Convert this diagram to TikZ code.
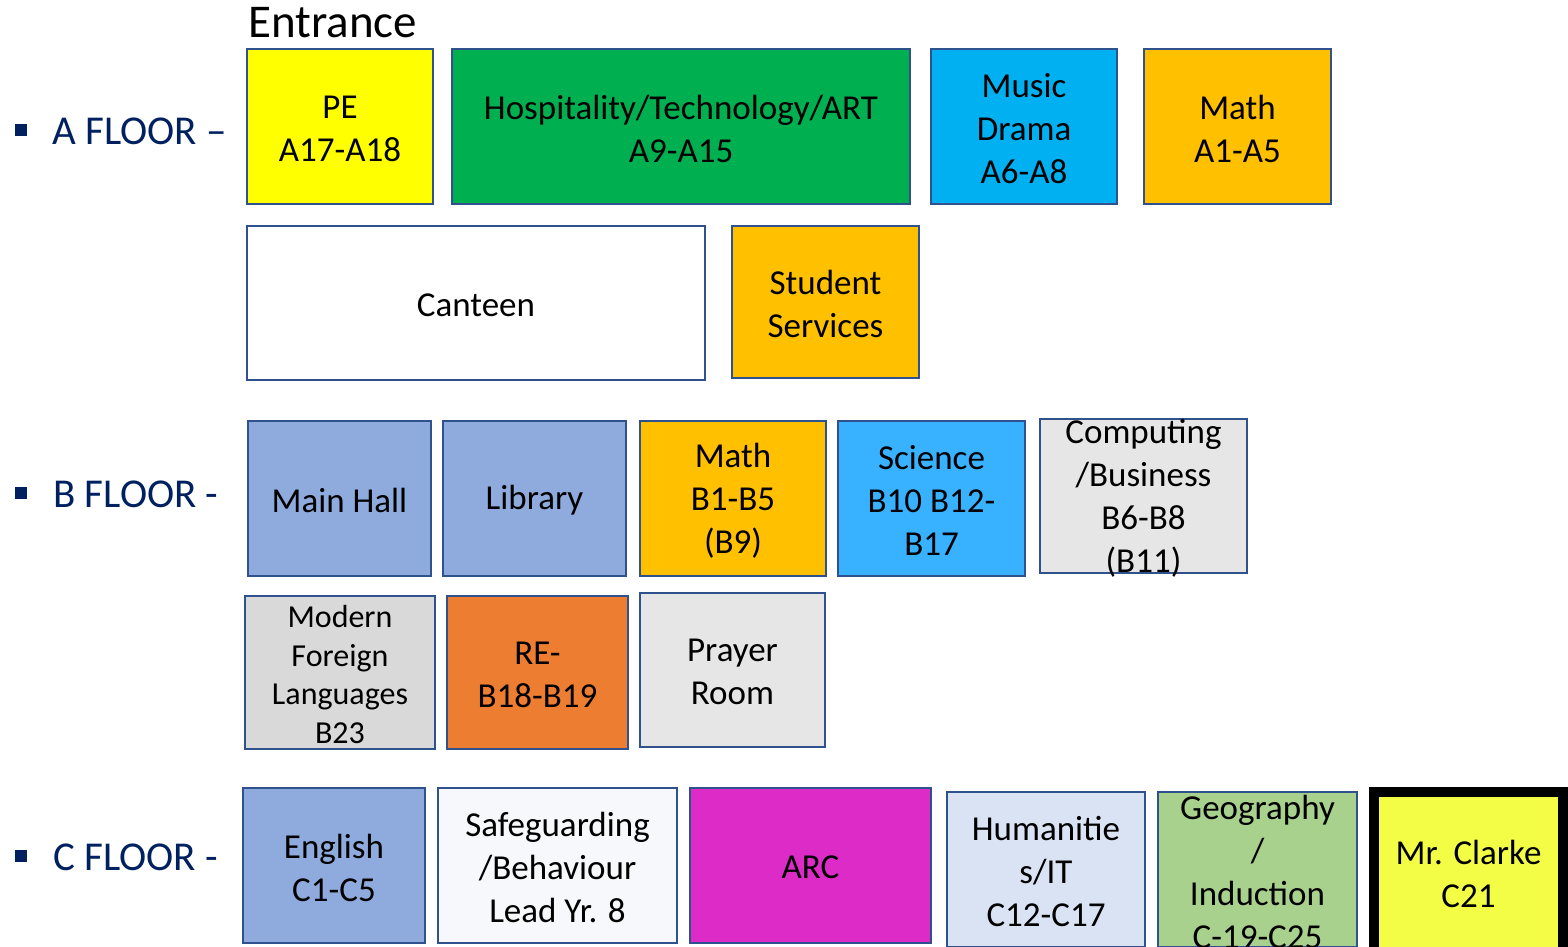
\documentclass[tikz,border=0pt]{standalone}
\usepackage{fontspec}
\setmainfont{Carlito}
\usetikzlibrary{fit,
positioning}
\definecolor{roomline}{HTML}{2F528F}
\definecolor{floornavy}{HTML}{002060}
\definecolor{peyellow}{HTML}{FFFF00}
\definecolor{hospgreen}{HTML}{00B050}
\definecolor{musicblue}{HTML}{00B0F0}
\definecolor{mathorange}{HTML}{FFC000}
\definecolor{hallblue}{HTML}{8FAADC}
\definecolor{scienceblue}{HTML}{38B1FF}
\definecolor{compgrey}{HTML}{E7E6E6}
\definecolor{mflgrey}{HTML}{D9D9D9}
\definecolor{reorange}{HTML}{ED7D31}
\definecolor{safewhite}{HTML}{F7F8FC}
\definecolor{arcpink}{HTML}{DC2BC6}
\definecolor{humblue}{HTML}{DAE3F3}
\definecolor{geogreen}{HTML}{A9D18E}
\definecolor{clarkeyellow}{HTML}{F3FD46}

\begin{document}
\begin{tikzpicture} [x=0.5pt,
    y=-0.5pt,
    room/.style={draw=roomline, line width=1.3pt, inner sep=0pt},
    roomtext/.style={align=center, inner sep=0pt, yshift=-1pt,
        font=\fontsize{17.5}{21.5}\selectfont},
    floor/.style={text=floornavy, anchor=west, inner sep=0pt,
        font=\fontsize{20.5}{24}\selectfont},
    bullet/.style={fill=floornavy, minimum size=6pt, inner sep=0pt}
  ]
  \useasboundingbox (0,0) rectangle (1568,947);

  % A floor
  \node [anchor=west, inner sep=0pt,
    font=\fontsize{23.5}{27}\selectfont
  ] (entrance) at (248,23) {Entrance};

  \node [bullet] (abullet) at (21,130) {};
  \node [floor] (afloor) at (52,131) {A FLOOR --};

  \node [room,
    fill = peyellow,
    fit = {(247,49) (433,204)},
    label = {[roomtext]center:{PE\\A17-A18}}
  ] (pe) {};
  \node [room,
    fill = hospgreen,
    fit = {(452,49) (910,204)},
    label = {[roomtext]center:{Hospitality/Technology/ART\\A9-A15}}
  ] (hosp) {};
  \node [room,
    fill = musicblue,
    fit = {(931,49) (1117,204)},
    label = {[roomtext]center:{Music\\Drama\\A6-A8}}
  ] (music) {};
  \node [room,
    fill = mathorange,
    fit = {(1144,49) (1331,204)},
    label = {[roomtext]center:{Math\\A1-A5}}
  ] (matha) {};

  \node [room,
    fill = white,
    fit = {(247,226) (705,380)},
    label = {[roomtext]center:{Canteen}}
  ] (canteen) {};
  \node [room,
    fill = mathorange,
    fit = {(732,226) (919,378)},
    label = {[roomtext]center:{Student\\Services}}
  ] (services) {};

  % B floor
  \node [bullet] (bbullet) at (21,493) {};
  \node [floor] (bfloor) at (53,494) {B FLOOR -};

  \node [room,
    fill = hallblue,
    fit = {(248,421) (431,576)},
    label = {[roomtext]center:{Main Hall}}
  ] (hall) {};
  \node [room,
    fill = hallblue,
    fit = {(443,421) (626,576)},
    label = {[roomtext]center:{Library}}
  ] (library) {};
  \node [room,
    fill = mathorange,
    fit = {(640,421) (826,576)},
    label = {[roomtext]center:{Math\\B1-B5\\(B9)}}
  ] (mathb) {};
  \node [room,
    fill = scienceblue,
    fit = {(838,421) (1025,576)},
    label = {[roomtext]center:{Science\\B10 B12-\\B17}}
  ] (science) {};
  \node [room,
    fill = compgrey,
    fit = {(1040,419) (1247,573)},
    label = {[roomtext]center:{Computing\\/Business\\B6-B8\\(B11)}}
  ] (computing) {};

  \node [room,
    fill = mflgrey,
    fit = {(245,596) (435,749)},
    label = {[roomtext, font=\fontsize{16}{19.25}\selectfont]center:{Modern\\Foreign\\Languages\\B23}}
  ] (mfl) {};
  \node [room,
    fill = reorange,
    fit = {(447,596) (628,749)},
    label = {[roomtext]center:{RE-\\B18-B19}}
  ] (re) {};
  \node [room,
    fill = compgrey,
    fit = {(640,593) (825,747)},
    label = {[roomtext]center:{Prayer\\Room}}
  ] (prayer) {};

  % C floor
  \node [bullet] (cbullet) at (21,856) {};
  \node [floor] (cfloor) at (53,857) {C FLOOR -};

  \node [room,
    fill = hallblue,
    fit = {(243,788) (425,943)},
    label = {[roomtext]center:{English\\C1-C5}}
  ] (english) {};
  \node [room,
    fill = safewhite,
    fit = {(438,788) (677,943)},
    label = {[roomtext]center:{Safeguarding\\/Behaviour\\Lead Yr. 8}}
  ] (safeguard) {};
  \node [room,
    fill = arcpink,
    fit = {(690,788) (931,943)},
    label = {[roomtext]center:{ARC}}
  ] (arc) {};
  \node [room,
    fill = humblue,
    fit = {(947,792) (1145,947)},
    label = {[roomtext]center:{Humanitie\\s/IT\\C12-C17}}
  ] (humanities) {};
  \node [room,
    fill = geogreen,
    fit = {(1158,792) (1357,947)},
    label = {[roomtext]center:{Geography\\/\\Induction\\C-19-C25}}
  ] (geography) {};
  \node [room,
    draw = black,
    line width = 5pt,
    fill = clarkeyellow,
    fit = {(1374,792) (1563,952)},
    label = {[roomtext]center:{Mr. Clarke\\C21}}
  ] (clarke) {};

\end{tikzpicture}
\end{document}
